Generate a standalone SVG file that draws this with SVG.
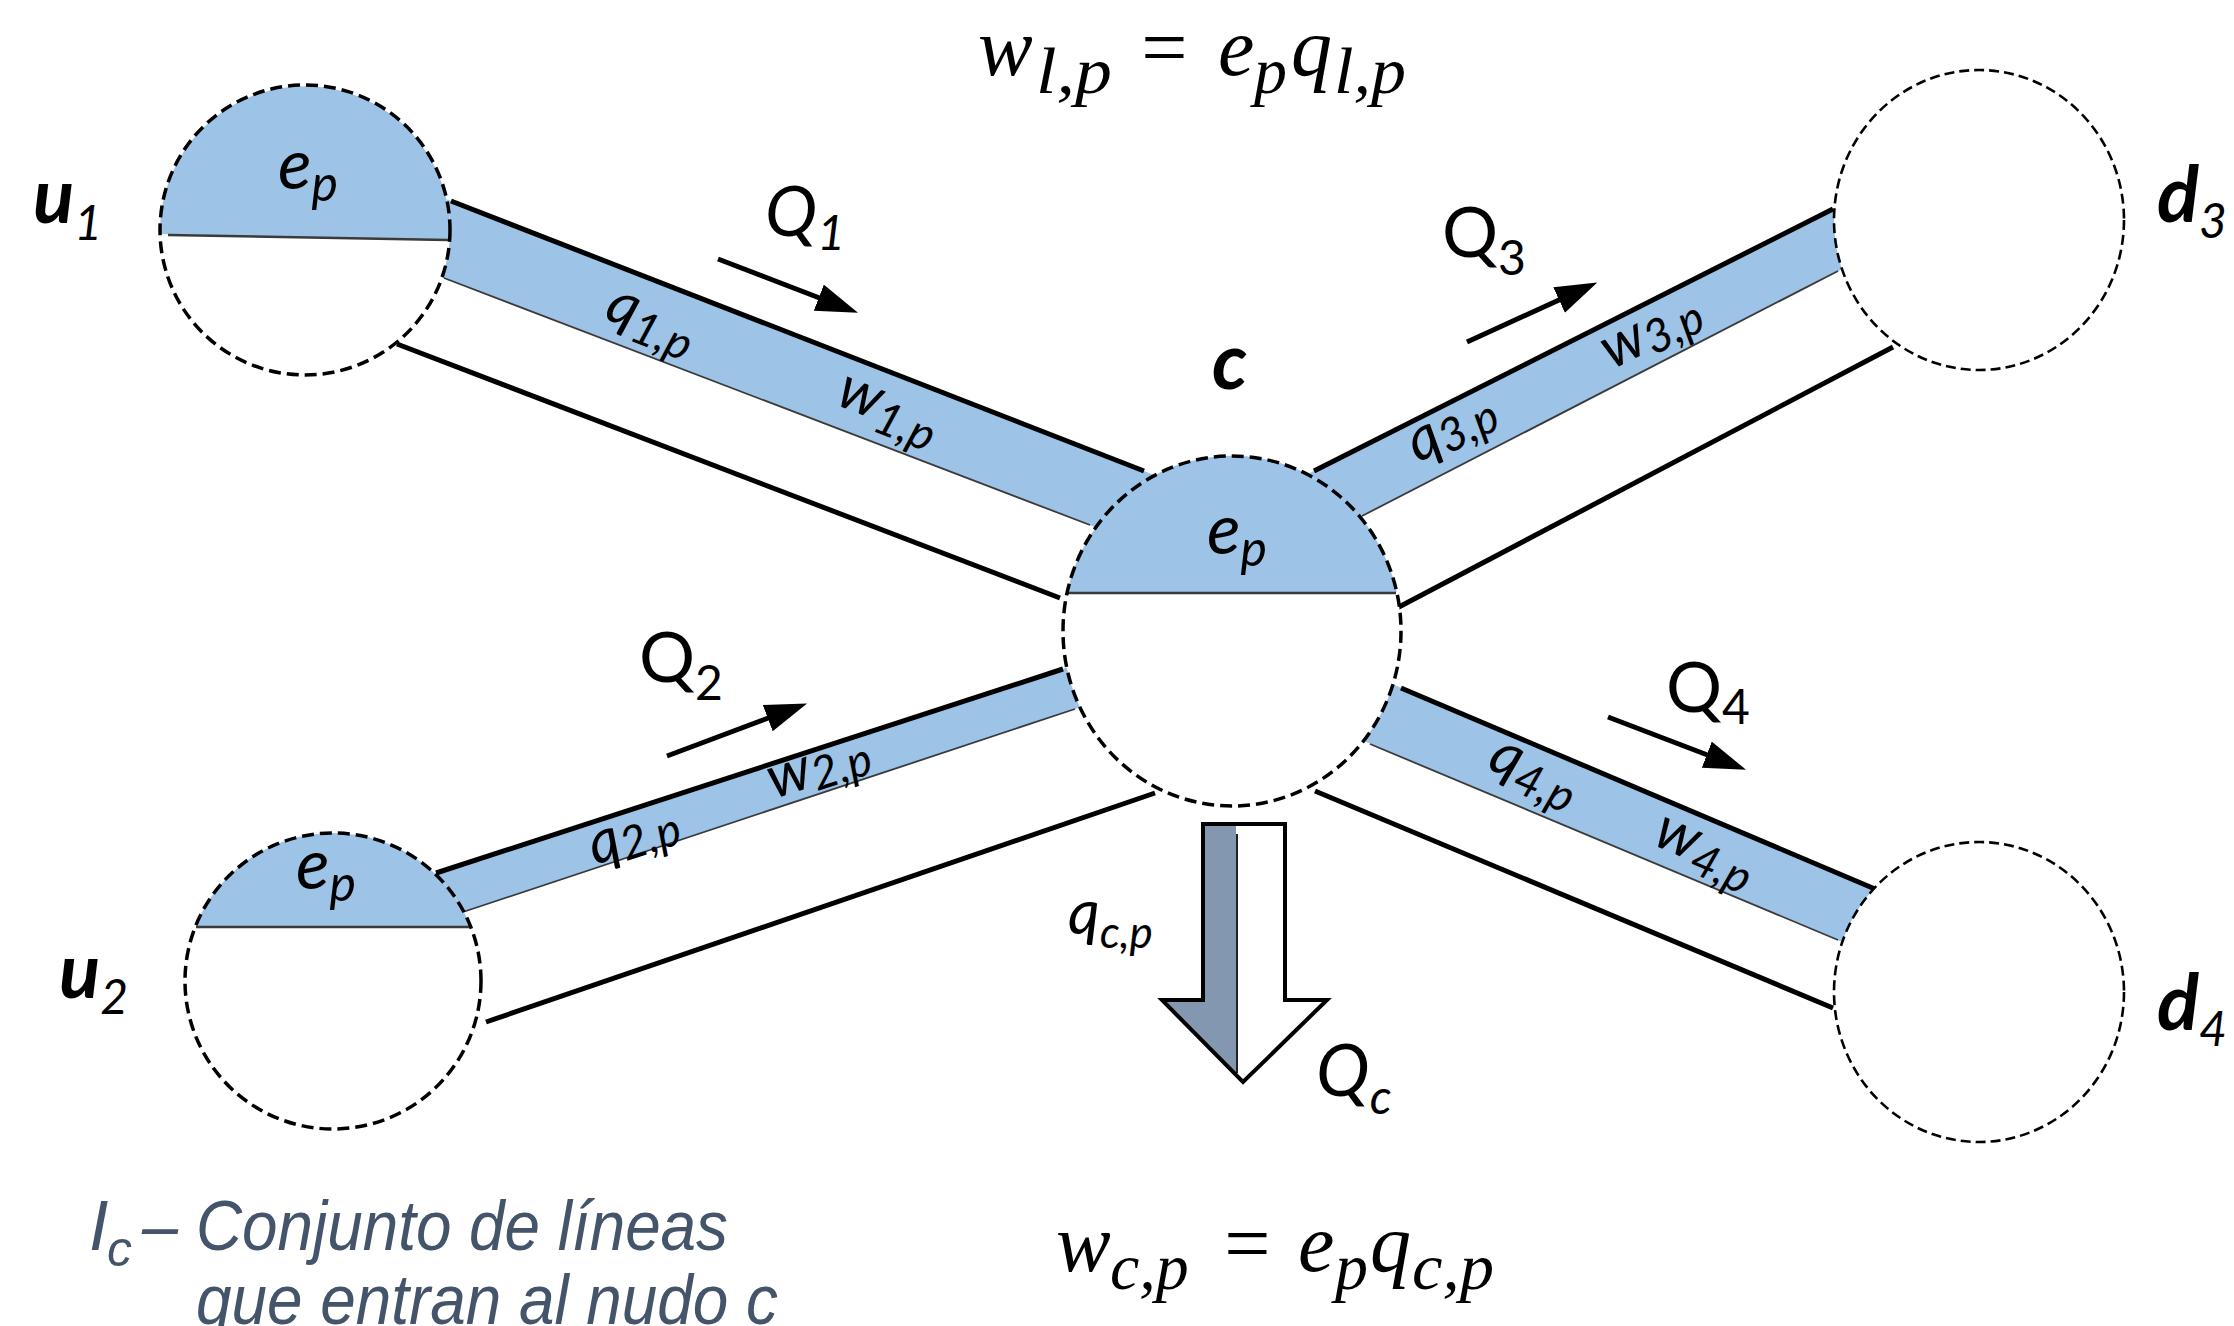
<svg xmlns="http://www.w3.org/2000/svg" width="2234" height="1326" viewBox="0 0 2234 1326">
<style>
.band{fill:#9DC3E6;stroke:none}
.edge{stroke:#3a3a3a;stroke-width:1.8;fill:none}
.wall{stroke:#000;stroke-width:5;fill:none}
.ring{fill:none;stroke:#000;stroke-width:3.5;stroke-dasharray:12 6}
.ring2{fill:none;stroke:#000;stroke-width:2.6;stroke-dasharray:10 5}
.bg{fill:#fff;stroke:none}
.half{fill:#9DC3E6;stroke:none}
.chord{stroke:#3a3a3a;stroke-width:2.5}
.flow{stroke:#000;stroke-width:5;fill:none;marker-end:url(#ah)}
.t{font-family:Lato,"Open Sans",sans-serif;font-style:italic;fill:#000}
.b{font-weight:bold}
.up{font-style:normal}
.m{font-family:"Liberation Serif","DejaVu Serif",serif;font-style:italic;fill:#000}
.note{font-family:"Liberation Sans",Arial,sans-serif;font-style:italic;fill:#44546A}
</style>
<defs>
<marker id="ah" markerUnits="userSpaceOnUse" markerWidth="44" markerHeight="30" refX="12" refY="14" orient="auto"><path d="M0,0 L42,14 L0,28 Z" fill="#000"/></marker>
</defs>
<rect width="2234" height="1326" fill="#fff"/>

<g id="connectors">
  <!-- pipe 1 u1 -> c -->
  <polygon class="band" points="428,192 1167,480 1113,534 421,269"/>
  <line class="edge" x1="444" y1="278" x2="1090" y2="525"/>
  <line class="wall" x1="451" y1="201" x2="1144" y2="471"/>
  <line class="wall" x1="397" y1="344" x2="1060" y2="598"/>
  <!-- pipe 3 c -> d3 -->
  <polygon class="band" points="1292,482 1856,197 1860,260 1340,527"/>
  <line class="edge" x1="1362" y1="516" x2="1838" y2="271"/>
  <line class="wall" x1="1314" y1="471" x2="1833" y2="209"/>
  <line class="wall" x1="1397" y1="608" x2="1893" y2="347"/>
  <!-- pipe 2 u2 -> c -->
  <polygon class="band" points="412,881 1087,661 1099,701 439,920"/>
  <line class="edge" x1="463" y1="912" x2="1075" y2="709"/>
  <line class="wall" x1="436" y1="873" x2="1063" y2="669"/>
  <line class="wall" x1="486" y1="1022" x2="1155" y2="793"/>
  <!-- pipe 4 c -> d4 -->
  <polygon class="band" points="1378,678 1898,899 1861,950 1347,734"/>
  <line class="edge" x1="1370" y1="744" x2="1838" y2="940"/>
  <line class="wall" x1="1401" y1="688" x2="1875" y2="889"/>
  <line class="wall" x1="1315" y1="791" x2="1833" y2="1008"/>
  <!-- flow arrows -->
  <line class="flow" x1="718" y1="259" x2="830" y2="302"/>
  <line class="flow" x1="1467" y1="342" x2="1570" y2="295"/>
  <line class="flow" x1="667" y1="756" x2="779" y2="714"/>
  <line class="flow" x1="1608" y1="717" x2="1718" y2="759"/>
  <!-- pipe labels -->
  <text class="t" font-size="60" transform="translate(603,318) rotate(21.3)">q<tspan font-size="46" dy="11">1,p</tspan></text>
  <text class="t" font-size="60" transform="translate(834,404) rotate(21.3)">w<tspan font-size="46" dy="11">1,p</tspan></text>
  <text class="t" font-size="60" transform="translate(1418,463) rotate(-26.8)">q<tspan font-size="46" dy="6">3,p</tspan></text>
  <text class="t" font-size="60" transform="translate(1612,370) rotate(-26.8)">w<tspan font-size="46" dy="6">3,p</tspan></text>
  <text class="t" font-size="60" transform="translate(595,865) rotate(-18)">q<tspan font-size="46" dy="6">2,p</tspan></text>
  <text class="t" font-size="60" transform="translate(774,799) rotate(-18)">w<tspan font-size="46" dy="6">2,p</tspan></text>
  <text class="t" font-size="60" transform="translate(1486,768) rotate(23)">q<tspan font-size="46" dy="11">4,p</tspan></text>
  <text class="t" font-size="60" transform="translate(1651,844) rotate(23)">w<tspan font-size="46" dy="11">4,p</tspan></text>
</g>

<g id="u1">
  <circle class="bg" cx="305" cy="230" r="145"/>
  <path class="half" d="M160,234 A145,145 0 1 1 449.7,240 Z"/>
  <line class="chord" x1="168" y1="235" x2="448" y2="240"/>
  <circle class="ring" cx="305" cy="230" r="145"/>
  <text class="t" x="278" y="189" font-size="70">e<tspan font-size="50" dy="12">p</tspan></text>
  <text class="t b" x="33" y="223" font-size="76">u<tspan font-weight="normal" font-size="48" dy="17">1</tspan></text>
</g>

<g id="u2">
  <circle class="bg" cx="333" cy="981" r="148"/>
  <path class="half" d="M195.6,926 A148,148 0 0 1 470.4,926 Z"/>
  <line class="chord" x1="196" y1="927" x2="470" y2="927"/>
  <circle class="ring" cx="333" cy="981" r="148"/>
  <text class="t" x="296" y="889" font-size="70">e<tspan font-size="50" dy="12">p</tspan></text>
  <text class="t b" x="59" y="998" font-size="76">u<tspan font-weight="normal" font-size="48" dy="16">2</tspan></text>
</g>

<g id="c">
  <ellipse class="bg" cx="1232" cy="631" rx="169" ry="175"/>
  <path class="half" d="M1067.2,592 A169,175 0 0 1 1396.8,592 Z"/>
  <line class="chord" x1="1068" y1="593" x2="1396" y2="593"/>
  <ellipse class="ring" cx="1232" cy="631" rx="169" ry="175"/>
  <text class="t" x="1207" y="554" font-size="70">e<tspan font-size="50" dy="12">p</tspan></text>
  <text class="t b" x="1212" y="389" font-size="78">c</text>
</g>

<g id="d3">
  <ellipse class="bg" cx="1979" cy="220" rx="145" ry="150"/>
  <ellipse class="ring2" cx="1979" cy="220" rx="145" ry="150"/>
  <text class="t b" x="2157" y="222" font-size="78">d<tspan font-weight="normal" font-size="48" dy="16">3</tspan></text>
</g>

<g id="d4">
  <ellipse class="bg" cx="1979" cy="992" rx="145" ry="150"/>
  <ellipse class="ring2" cx="1979" cy="992" rx="145" ry="150"/>
  <text class="t b" x="2157" y="1030" font-size="78">d<tspan font-weight="normal" font-size="48" dy="16">4</tspan></text>
</g>

<g id="flow-labels">
  <text class="t" x="765" y="236" font-size="70">Q<tspan font-size="48" dy="14">1</tspan></text>
  <text class="t up" x="1442" y="257" font-size="70">Q<tspan font-size="48" dy="18">3</tspan></text>
  <text class="t up" x="639" y="682" font-size="70">Q<tspan font-size="48" dy="18">2</tspan></text>
  <text class="t up" x="1666" y="712" font-size="70">Q<tspan font-size="48" dy="12">4</tspan></text>
</g>

<g id="outflow">
  <polygon points="1203,824 1236,824 1236,1075 1162,1000 1203,1000" fill="#8497B0"/>
  <line x1="1237" y1="834" x2="1237" y2="1073" stroke="#222" stroke-width="2"/>
  <path d="M1203,824 H1285 V1000 H1327 L1243,1082 L1162,1000 H1203 Z" fill="none" stroke="#000" stroke-width="4" stroke-linejoin="miter"/>
  <text class="t" x="1068" y="934" font-size="62">q<tspan font-size="44" dy="14">c,p</tspan></text>
  <text class="t" x="1316" y="1096" font-size="72">Q<tspan font-size="48" dy="18">c</tspan></text>
</g>

<g id="formulas">
  <text class="m" x="978" y="75" font-size="82">w</text>
  <text class="m" x="1036" y="93" font-size="66" textLength="76" lengthAdjust="spacingAndGlyphs">l,p</text>
  <text class="m up" x="1136" y="75" font-size="82">=</text>
  <text class="m" x="1218" y="75" font-size="82">e</text>
  <text class="m" x="1254" y="93" font-size="66">p</text>
  <text class="m" x="1291" y="75" font-size="82">q</text>
  <text class="m" x="1334" y="93" font-size="66" textLength="72" lengthAdjust="spacingAndGlyphs">l,p</text>

  <text class="m" x="1056" y="1271" font-size="82">w</text>
  <text class="m" x="1110" y="1289" font-size="66">c,p</text>
  <text class="m up" x="1219" y="1271" font-size="82">=</text>
  <text class="m" x="1298" y="1271" font-size="82">e</text>
  <text class="m" x="1335" y="1289" font-size="66">p</text>
  <text class="m" x="1370" y="1271" font-size="82">q</text>
  <text class="m" x="1412" y="1289" font-size="66" textLength="82" lengthAdjust="spacingAndGlyphs">c,p</text>
</g>

<g id="note">
  <text class="note" x="89" y="1250" font-size="70">I</text>
  <text class="note" x="107" y="1266" font-size="50">c</text>
  <text class="note up" x="142" y="1250" font-size="70" textLength="36" lengthAdjust="spacingAndGlyphs">–</text>
  <text class="note" x="196" y="1250" font-size="70" textLength="532" lengthAdjust="spacingAndGlyphs">Conjunto de líneas</text>
  <text class="note" x="196" y="1324" font-size="70" textLength="582" lengthAdjust="spacingAndGlyphs">que entran al nudo c</text>
</g>
</svg>
